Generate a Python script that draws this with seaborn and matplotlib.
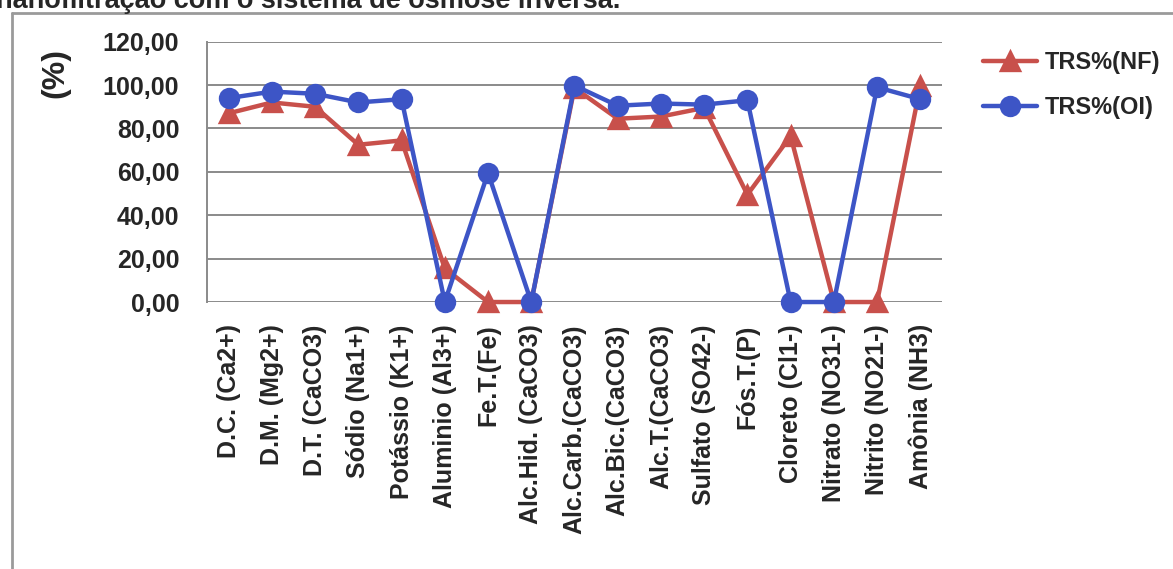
import matplotlib
matplotlib.use("Agg")
import matplotlib.pyplot as plt
from matplotlib.lines import Line2D
import pandas as pd
import seaborn as sns

categories = [
    "D.C. (Ca2+)", "D.M. (Mg2+)", "D.T. (CaCO3)", "Sódio (Na1+)", "Potássio (K1+)",
    "Aluminio (Al3+)", "Fe.T.(Fe)", "Alc.Hid. (CaCO3)", "Alc.Carb.(CaCO3)",
    "Alc.Bic.(CaCO3)", "Alc.T.(CaCO3)", "Sulfato (SO42-)", "Fós.T.(P)",
    "Cloreto (Cl1-)", "Nitrato (NO31-)", "Nitrito (NO21-)", "Amônia (NH3)",
]
trs_nf = [87.0, 92.0, 90.0, 72.5, 74.5, 15.5, 0.0, 0.0, 98.7, 84.5, 85.5,
          89.5, 49.5, 76.5, 0.0, 0.0, 99.5]
trs_oi = [94.0, 97.0, 96.0, 92.0, 93.5, 0.0, 59.5, 0.0, 99.8, 90.5, 91.5,
          91.0, 93.0, 0.0, 0.0, 99.0, 93.5]
series_names = ["TRS%(NF)", "TRS%(OI)"]
y_ticks = [0, 20, 40, 60, 80, 100, 120]
caption = "nanofiltração com o sistema de osmose inversa."

df = pd.DataFrame({
    "param": categories * 2,
    "value": trs_nf + trs_oi,
    "serie": [series_names[0]] * len(categories) + [series_names[1]] * len(categories),
})

sns.set_style("white")
plt.rcParams["font.family"] = ["Liberation Sans", "DejaVu Sans"]
plt.rcParams["font.weight"] = "bold"

red = "#C8504B"
blue = "#3D55C6"

fig = plt.figure(figsize=(11.73, 5.69), dpi=100)
ax = fig.add_axes([0.1765, 0.4692, 0.803 - 0.1765, 0.9267 - 0.4692])

sns.pointplot(
    data=df, x="param", y="value", hue="serie", order=categories,
    hue_order=series_names, palette=[red, blue], markers=["^", "o"],
    linestyles=["-", "-"], markersize=13, linewidth=3.2, errorbar=None,
    ax=ax,
)

ax.set_xlim(-0.5, len(categories) - 0.5)
ax.set_ylim(0, 120)
ax.set_yticks(y_ticks)
ax.set_yticklabels([f"{v:.2f}".replace(".", ",") for v in y_ticks],
                   fontsize=18, fontweight="bold")
ax.set_xticks(range(len(categories)))
ax.set_xticklabels(categories, rotation=90, fontsize=18, fontweight="bold")
ax.tick_params(axis="x", length=0, pad=16)
ax.tick_params(axis="y", length=0, pad=20)
ax.set_xlabel("")
ax.set_ylabel("")

ax.grid(axis="y", color="#8a8a8a", linewidth=1.4)
ax.set_axisbelow(True)
for side in ["top", "right", "bottom"]:
    ax.spines[side].set_visible(False)
ax.spines["left"].set_color("#8a8a8a")
ax.spines["left"].set_linewidth(1.4)
for ln in ax.lines:
    ln.set_clip_on(False)
for coll in ax.collections:
    coll.set_clip_on(False)

fig.text(55 / 1173, 1 - 73 / 569, "(%)", rotation=90, fontsize=23,
         fontweight="bold", ha="center", va="center")

handles, labels = ax.get_legend_handles_labels()
ax.legend(handles, labels, loc="center left",
          bbox_to_anchor=(983 / 1173, 1 - 85 / 569), bbox_transform=fig.transFigure,
          frameon=False, handlelength=2.3, handletextpad=0.3,
          labelspacing=0.95, borderaxespad=0, borderpad=0,
          prop={"weight": "bold", "size": 17})

# caption line running past the top edge, and the chart frame
fig.text(-4 / 1173, 1 - 8 / 569, caption, fontsize=19.5, fontweight="bold",
         ha="left", va="baseline")
fig.add_artist(Line2D([12 / 1173, 12 / 1173], [0, 1 - 13 / 569],
                      transform=fig.transFigure, color="#9a9a9a", linewidth=2))
fig.add_artist(Line2D([12 / 1173, 1], [1 - 13 / 569, 1 - 13 / 569],
                      transform=fig.transFigure, color="#9a9a9a", linewidth=2))

fig.savefig("out.png", dpi=100)
